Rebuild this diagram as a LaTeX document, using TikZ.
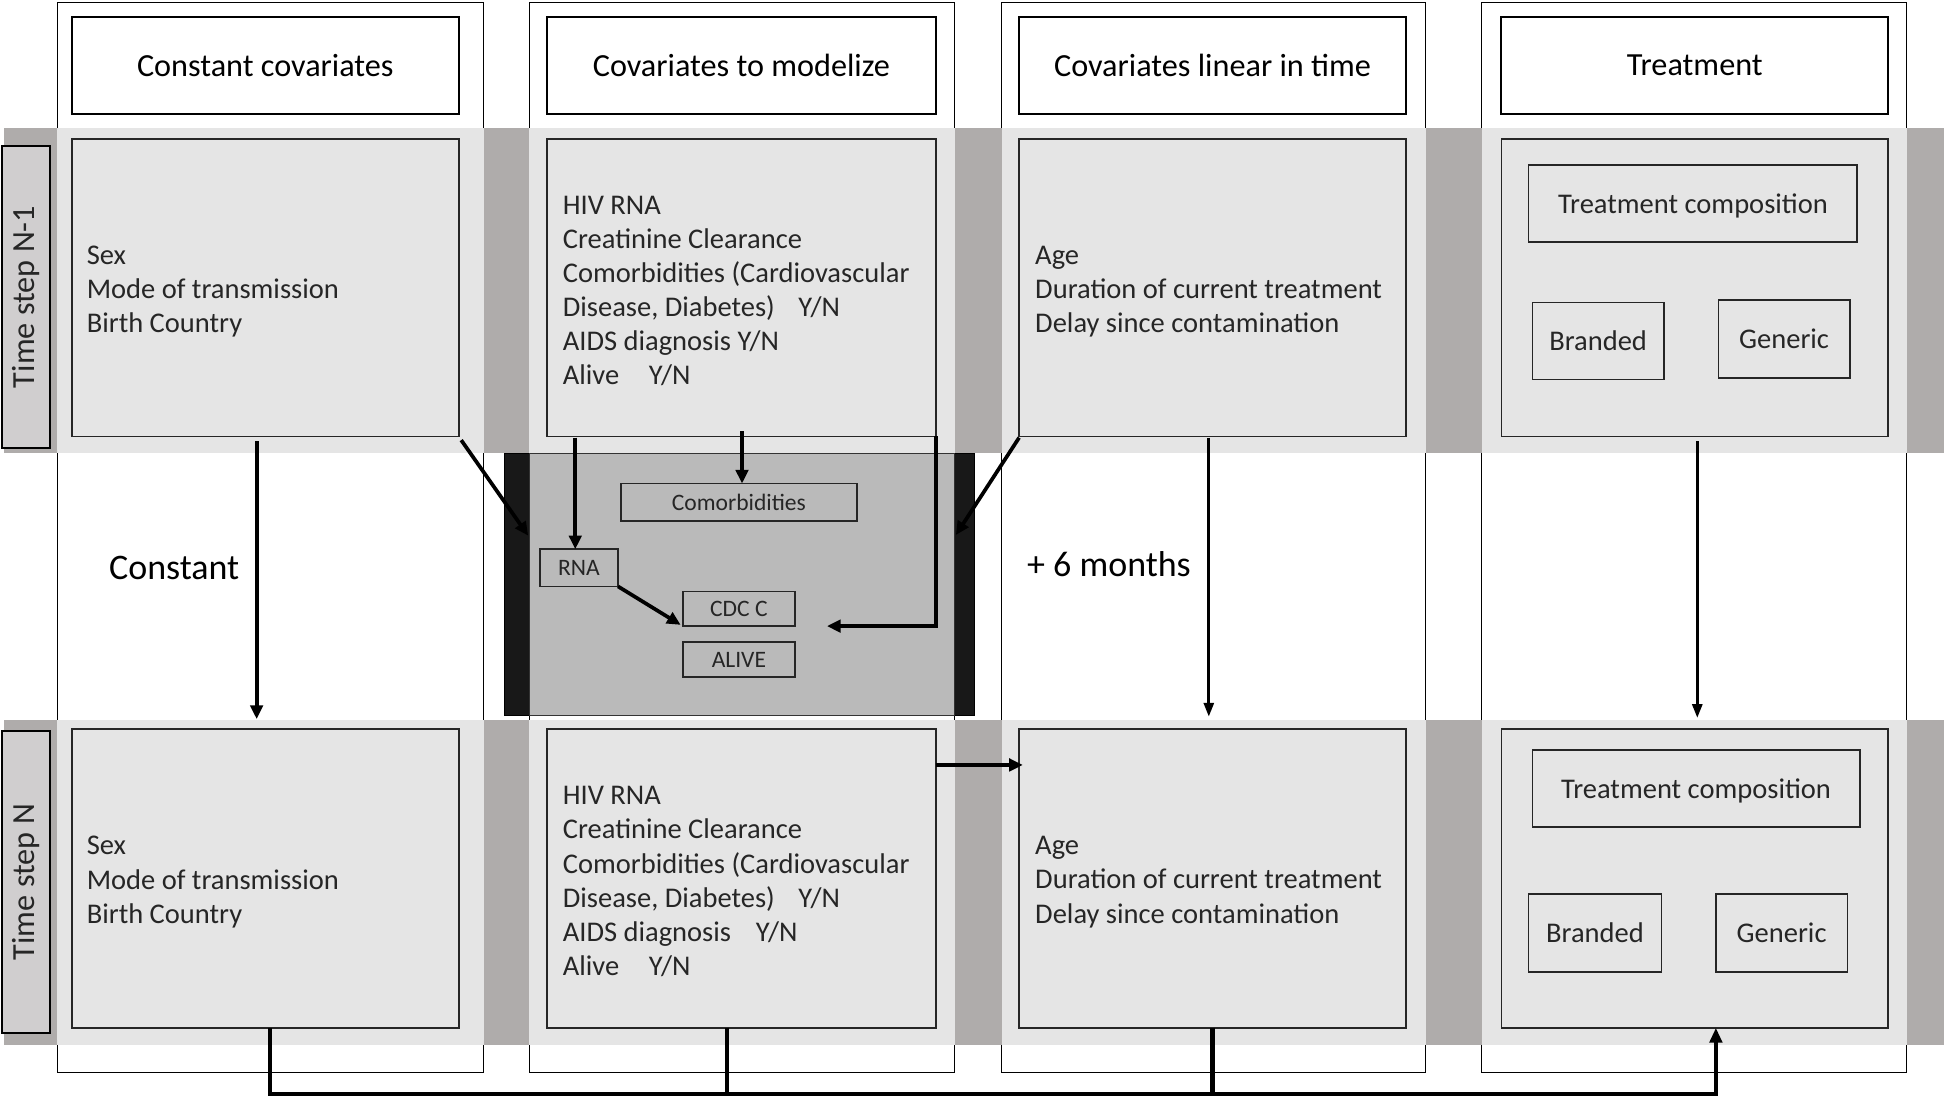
\documentclass[tikz,border=0pt]{standalone}
\usepackage{fontspec}
\setmainfont{Carlito}
\usetikzlibrary{arrows.meta,calc}
\definecolor{lgray}{HTML}{E5E5E5}
\definecolor{dgray}{HTML}{AFACAB}
\definecolor{tsgray}{HTML}{D0CECF}
\definecolor{mgray}{HTML}{BABABA}
\definecolor{blk}{HTML}{181818}
\definecolor{txt}{HTML}{262626}
\begin{document}
\begin{tikzpicture}[x=1pt,y=-1pt,
  every node/.style={inner sep=0pt, outer sep=0pt},
  colbox/.style={draw=black, line width=0.8pt, fill=white, minimum height=863pt},
  hdr/.style={draw=black, line width=1.6pt, fill=white, minimum height=78pt, font=\fontsize{26}{30}\selectfont},
  bandbox/.style={fill=dgray, minimum width=1565pt, minimum height=262pt},
  inbox/.style={draw=black!85, line width=1.3pt, fill=lgray},
  bodytext/.style={anchor=west, align=left, text=txt, font=\fontsize{23}{27.5}\selectfont},
  tslabel/.style={draw=black, line width=1.6pt, fill=tsgray, minimum width=243pt, minimum height=38pt, rotate=90, text=txt, font=\fontsize{26}{30}\selectfont},
  subbox/.style={draw=black!85, line width=1.3pt, fill=lgray, text=txt, text depth=0pt, font=\fontsize{23}{27}\selectfont},
  smallbox/.style={draw=black!85, line width=1.3pt, fill=mgray, text=txt, font=\fontsize{19}{22}\selectfont},
  biglabel/.style={font=\fontsize{29}{34}\selectfont},
  arr/.style={line width=3pt, -{Triangle[length=11pt,width=10pt]}},
  thinarr/.style={line width=2.2pt, -{Triangle[length=11pt,width=8pt]}},
  bus/.style={line width=3.5pt}
]
\useasboundingbox (0,0) rectangle (1568,886);
\fill[white] (0,0) rectangle (1568,886);

% columns
\node[colbox, minimum width=344pt] (col1) at (218,433.5) {};
\node[colbox, minimum width=343pt] (col2) at (598.5,433.5) {};
\node[colbox, minimum width=342pt] (col3) at (979,433.5) {};
\node[colbox, minimum width=343pt] (col4) at (1366.5,433.5) {};

% bands
\node[bandbox] (band1) at (785.5,234.5) {};
\node[bandbox] (band2) at (785.5,712) {};
\foreach \c in {col1,col2,col3,col4}{
  \fill[lgray] (\c.west |- band1.north) rectangle (\c.east |- band1.south);
  \fill[lgray] (\c.west |- band2.north) rectangle (\c.east |- band2.south);
}

% headers
\node[hdr, minimum width=312pt] (h1) at (214,53) {Constant covariates};
\node[hdr, minimum width=314pt] (h2) at (598,53) {Covariates to modelize};
\node[hdr, minimum width=312pt] (h3) at (978,53) {Covariates linear in time};
\node[hdr, minimum width=312pt] (h4) at (1367,53) {Treatment};

% time step labels
\node[tslabel] (ts1) at (21,239.5) {Time step N-1};
\node[tslabel] (ts2) at (21,711.5) {Time step N};

% row 1 boxes
\node[inbox, minimum width=312pt, minimum height=240pt] (r1c1) at (214,232) {};
\node[inbox, minimum width=314pt, minimum height=240pt] (r1c2) at (598,232) {};
\node[inbox, minimum width=312pt, minimum height=240pt] (r1c3) at (978,232) {};
\node[inbox, minimum width=312pt, minimum height=240pt] (r1c4) at (1367,232) {};
\node[bodytext] (t1c1) at ($(r1c1.west)+(12,3)$)
  {Sex\\Mode of transmission\\Birth Country};
\node[bodytext] (t1c2) at ($(r1c2.west)+(13,2.5)$)
  {HIV RNA\\Creatinine Clearance\\Comorbidities (Cardiovascular\\Disease, Diabetes)\hspace{19pt}Y/N\\AIDS diagnosis Y/N\\Alive\hspace{24pt}Y/N};
\node[bodytext] (t1c3) at ($(r1c3.west)+(13,3)$)
  {Age\\Duration of current treatment\\Delay since contamination};
\node[subbox, minimum width=265pt, minimum height=62pt] (tc1) at (1365.5,164) {Treatment composition};
\node[subbox, minimum width=106pt, minimum height=62pt] (br1) at (1289,275) {Branded};
\node[subbox, minimum width=106pt, minimum height=63pt] (ge1) at (1439,273.5) {Generic};

% row 2 boxes
\node[inbox, minimum width=312pt, minimum height=241pt] (r2c1) at (214,708.5) {};
\node[inbox, minimum width=314pt, minimum height=241pt] (r2c2) at (598,708.5) {};
\node[inbox, minimum width=312pt, minimum height=241pt] (r2c3) at (978,708.5) {};
\node[inbox, minimum width=312pt, minimum height=241pt] (r2c4) at (1367,708.5) {};
\node[bodytext] (t2c1) at ($(r2c1.west)+(12,3)$)
  {Sex\\Mode of transmission\\Birth Country};
\node[bodytext] (t2c2) at ($(r2c2.west)+(13,2.5)$)
  {HIV RNA\\Creatinine Clearance\\Comorbidities (Cardiovascular\\Disease, Diabetes)\hspace{19pt}Y/N\\AIDS diagnosis\hspace{20pt}Y/N\\Alive\hspace{24pt}Y/N};
\node[bodytext] (t2c3) at ($(r2c3.west)+(13,3)$)
  {Age\\Duration of current treatment\\Delay since contamination};
\node[subbox, minimum width=264pt, minimum height=62pt] (tc2) at (1368,636) {Treatment composition};
\node[subbox, minimum width=107pt, minimum height=63pt] (br2) at (1286.5,752.5) {Branded};
\node[subbox, minimum width=106pt, minimum height=63pt] (ge2) at (1437,752.5) {Generic};

% central model box
\node[fill=blk, draw=black, line width=1pt, minimum width=379pt, minimum height=211pt] (midout) at (596.5,471.5) {};
\node[fill=mgray, draw=black!80, line width=1pt, minimum width=343pt, minimum height=211pt] (mid) at (598.5,471.5) {};
\node[smallbox, minimum width=190pt, minimum height=30pt] (comor) at (596,405) {Comorbidities};
\node[smallbox, minimum width=63pt, minimum height=30pt] (rna) at (467,458) {RNA};
\node[smallbox, minimum width=90pt, minimum height=28pt] (cdc) at (596,491) {CDC C};
\node[smallbox, minimum width=90pt, minimum height=28pt] (alive) at (596,532) {ALIVE};

% labels
\node[biglabel] (lconst) at (140.5,458) {Constant};
\node[biglabel] (lsix) at (894.5,455) {+ 6 months};

% arrows
\draw[arr] ($(r1c1.south)+(-7,4)$) -- ($(r1c1.south |- band2.north)+(-7,-1)$);
\draw[arr] ($(r1c1.south east)+(2,3)$) -- ($(mid.west)+(-1,-39.5)$);
\draw[arr] ($(r1c3.south west)+(0,1)$) -- ($(mid.east)+(1,-40)$);
\draw[arr] ($(r1c2.south west)+(23,1)$) -- ($(rna.north)+(-3,0)$);
\draw[arr] ($(comor.north |- r1c2.south)+(2.5,-4)$) -- ($(comor.north)+(2.5,0)$);
\draw[arr] (r1c2.south east) -- (r1c2.south east |- cdc.south) -- ($(cdc.south east)+(26,0)$);
\draw[arr] (rna.south east) -- ($(cdc.south west)+(-2,-1)$);
\draw[thinarr] ($(r1c3.south)+(-3,1)$) -- ($(r1c3.south |- band2.north)+(-3,-3)$);
\draw[thinarr] ($(r1c4.south)+(2,4)$) -- ($(r1c4.south |- band2.north)+(2,-2)$);
\draw[arr] ($(r2c2.east)+(0,-91.5)$) -- ($(r2c3.west)+(3,-91.5)$);

% bottom bus
\draw[bus, -{Triangle[length=12pt,width=10pt]}] ($(r2c1.south)+(4,0)$) -- ($(r2c1.south)+(4,53.5)$) -| ($(r2c4.south)+(17,0)$);
\draw[bus] ($(r2c2.south)+(-11.5,0)$) -- ++(0,53.5);
\draw[bus] (r2c3.south) -- ++(0,53.5);
\end{tikzpicture}
\end{document}
